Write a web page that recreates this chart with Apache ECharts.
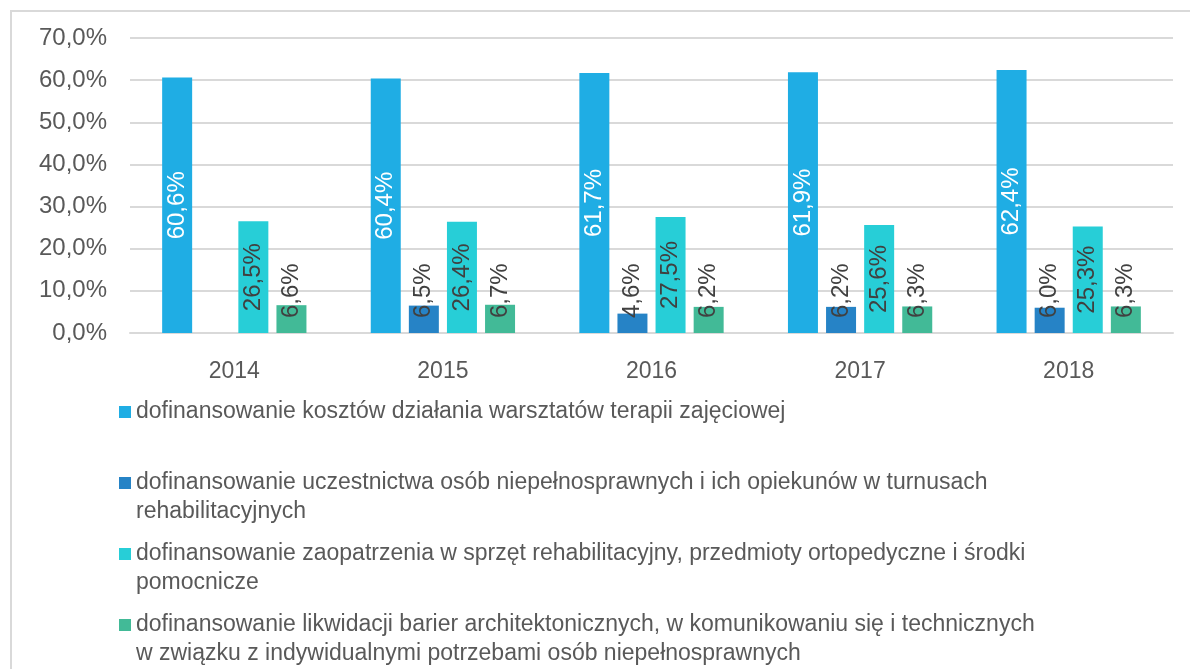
<!DOCTYPE html>
<html>
<head>
<meta charset="utf-8">
<script src="https://cdn.jsdelivr.net/npm/echarts@6/dist/echarts.min.js"></script>
<style>
  html, body { margin: 0; padding: 0; background: #fff; }
  #box { position: absolute; left: 10px; top: 10px; width: 1190px; height: 680px; border: 2px solid #d9d9d9; box-sizing: border-box; }
  #chart { position: absolute; left: 0; top: 0; width: 1190px; height: 669px; }
</style>
</head>
<body>
<div id="box"></div>
<div id="chart"></div>
<script>
// lata
const years = ['2014', '2015', '2016', '2017', '2018']

// nazwy serii (legenda)
const seriesNames = [
  'dofinansowanie kosztów działania warsztatów terapii zajęciowej',
  'dofinansowanie uczestnictwa osób niepełnosprawnych i ich opiekunów w turnusach rehabilitacyjnych',
  'dofinansowanie zaopatrzenia w sprzęt rehabilitacyjny, przedmioty ortopedyczne i środki pomocnicze',
  'dofinansowanie likwidacji barier architektonicznych, w komunikowaniu się i technicznych w związku z indywidualnymi potrzebami osób niepełnosprawnych'
]
// tekst legendy z podziałem linii
const legendLines = [
  ['dofinansowanie kosztów działania warsztatów terapii zajęciowej'],
  ['dofinansowanie uczestnictwa osób niepełnosprawnych i ich opiekunów w turnusach', 'rehabilitacyjnych'],
  ['dofinansowanie zaopatrzenia w sprzęt rehabilitacyjny, przedmioty ortopedyczne i środki', 'pomocnicze'],
  ['dofinansowanie likwidacji barier architektonicznych, w komunikowaniu się i technicznych', 'w związku z indywidualnymi potrzebami osób niepełnosprawnych']
]

// wartości (%)
const warsztaty = [60.6, 60.4, 61.7, 61.9, 62.4]
const turnusy = [null, 6.5, 4.6, 6.2, 6.0]
const sprzet = [26.5, 26.4, 27.5, 25.6, 25.3]
const bariery = [6.6, 6.7, 6.2, 6.3, 6.3]

const colors = ['#1fade4', '#2683c6', '#27ced7', '#42ba97']
const legendTops = [412, 483, 554, 625]

const fmt = v => v.toFixed(1).replace('.', ',') + '%'
const font = 'Liberation Sans, Arial, sans-serif'

const chart = echarts.init(document.getElementById('chart'))

const makeLabel = (inside, col) => ({
  show: true,
  rotate: 90,
  position: inside ? 'inside' : 'insideBottom',
  distance: 15,
  align: inside ? 'center' : 'left',
  verticalAlign: 'middle',
  color: col,
  fontSize: 24,
  fontFamily: font,
  formatter: p => fmt(p.value)
})

const data = [warsztaty, turnusy, sprzet, bariery]
const labelInside = [true, false, true, false]
const labelColor = ['#ffffff', '#404040', '#404040', '#404040']

// legenda: osobny komponent dla każdej pozycji, pierwsza linia na wysokości ikony
const legends = legendLines.map((lines, i) => {
  // pusta linia nad tekstem wielowierszowym, żeby ikona stała przy pierwszej linii
  const txt = lines.length > 1 ? [' '].concat(lines) : lines
  return {
    data: [seriesNames[i]],
    left: 119,
    top: legendTops[i] - txt.length * 29 / 2,
    orient: 'vertical',
    icon: 'rect',
    itemWidth: 12,
    itemHeight: 12,
    padding: 0,
    formatter: () => txt.join('\n'),
    textStyle: {
      color: '#595959',
      fontSize: 23,
      fontFamily: font,
      lineHeight: 29
    }
  }
})

const option = {
  animation: false,
  color: colors,
  grid: { left: 130, right: 17, top: 38, bottom: 336 },
  legend: legends,
  xAxis: {
    type: 'category',
    data: years,
    axisTick: { show: false },
    axisLine: { lineStyle: { color: '#d9d9d9', width: 2 } },
    axisLabel: { color: '#595959', fontSize: 23, fontFamily: font, margin: 27 }
  },
  yAxis: {
    type: 'value',
    min: 0,
    max: 70,
    interval: 10,
    axisLabel: { color: '#595959', fontSize: 24, fontFamily: font, margin: 23, formatter: v => fmt(v) },
    splitLine: { lineStyle: { color: '#d9d9d9', width: 2 } }
  },
  series: data.map((d, i) => ({
    name: seriesNames[i],
    type: 'bar',
    data: d,
    barWidth: 30,
    barGap: '27%',
    label: makeLabel(labelInside[i], labelColor[i])
  }))
}

chart.setOption(option)
</script>
</body>
</html>
